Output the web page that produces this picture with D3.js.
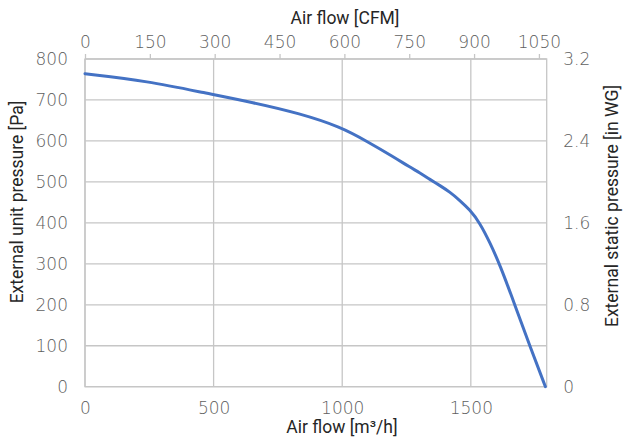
<!DOCTYPE html>
<html>
<head>
<meta charset="utf-8">
<script src="https://cdn.jsdelivr.net/npm/d3@7"></script>
<style>
  html, body { margin: 0; padding: 0; background: #fff; }
  svg { display: block; }
  .tick text { font-family: "DejaVu Sans", sans-serif; font-stretch: condensed; font-weight: 300; font-size: 17px; fill: #5f5f5f; }
  .title { font-family: "Roboto", "Liberation Sans", sans-serif; font-size: 17.5px; fill: #262626; }
</style>
</head>
<body>
<script>
// ---- data ----
const flowM3h    = [0, 244, 467, 653, 836, 995, 1096, 1197, 1263, 1302, 1341, 1380, 1419, 1457, 1496, 1535, 1574, 1613, 1671, 1729, 1790];
const pressurePa = [764, 746, 717, 694, 667, 634, 599, 562, 536, 522, 506, 491, 475, 455, 432, 400, 352, 298, 200, 100, 0];
const m3hTicks   = [0, 500, 1000, 1500];
const cfmTicks   = [0, 150, 300, 450, 600, 750, 900, 1050];
const paTicks    = [0, 100, 200, 300, 400, 500, 600, 700, 800];
const inwgTicks  = [0, 0.8, 1.6, 2.4, 3.2];
const inwgLabels = ["0", "0.8", "1.6", "2.4", "3.2"];

const W = 624, H = 441;
const L = 85, R = 546.7, T = 59, B = 386.7;

const svg = d3.select("body").append("svg").attr("width", W).attr("height", H);

const x    = d3.scaleLinear().domain([0, 1795]).range([L, R]);
const xTop = d3.scaleLinear().domain([0, 1068]).range([L, R]);
const y    = d3.scaleLinear().domain([0, 800]).range([B, T]);
const yR   = d3.scaleLinear().domain([0, 3.2]).range([B, T]);

const gridColor = "#c6c6c6";
const fmt = d3.format("d");

// horizontal grid
svg.append("g").selectAll("line").data(paTicks).join("line")
  .attr("x1", L).attr("x2", R)
  .attr("y1", d => y(d)).attr("y2", d => y(d))
  .attr("stroke", gridColor).attr("stroke-width", 1.3);
// vertical grid
svg.append("g").selectAll("line").data(m3hTicks).join("line")
  .attr("x1", d => x(d)).attr("x2", d => x(d))
  .attr("y1", T).attr("y2", B)
  .attr("stroke", gridColor).attr("stroke-width", 1.3);
// border
svg.append("rect").attr("x", L).attr("y", T).attr("width", R - L).attr("height", B - T)
  .attr("fill", "none").attr("stroke", gridColor).attr("stroke-width", 1.3);

// axes
const gl = svg.append("g").attr("transform", `translate(${L},0)`)
  .call(d3.axisLeft(y).tickValues(paTicks).tickFormat(fmt).tickSize(0).tickPadding(17));
const gr = svg.append("g").attr("transform", `translate(${R},0)`)
  .call(d3.axisRight(yR).tickValues(inwgTicks).tickFormat((d, i) => inwgLabels[i]).tickSize(0).tickPadding(16.5));
const gb = svg.append("g").attr("transform", `translate(0,${B})`)
  .call(d3.axisBottom(x).tickValues(m3hTicks).tickFormat(fmt).tickSize(0).tickPadding(15));
const gt = svg.append("g").attr("transform", `translate(0,${T})`)
  .call(d3.axisTop(xTop).tickValues(cfmTicks).tickFormat(fmt).tickSize(5).tickPadding(6));

[gl, gr, gb, gt].forEach(g => {
  g.select(".domain").remove();
  g.selectAll(".tick line").attr("stroke", gridColor).attr("stroke-width", 1.3);
});

// curve
const line = d3.line()
  .x((d, i) => x(flowM3h[i]))
  .y((d, i) => y(pressurePa[i]))
  .curve(d3.curveBasis);
svg.append("path").datum(pressurePa)
  .attr("d", line)
  .attr("fill", "none").attr("stroke", "#4472c4").attr("stroke-width", 3).attr("stroke-linecap", "round");

// titles
svg.append("text").attr("class", "title").attr("x", 345).attr("y", 24).attr("text-anchor", "middle").text("Air flow [CFM]");
svg.append("text").attr("class", "title").attr("x", 342).attr("y", 433).attr("text-anchor", "middle").text("Air flow [m³/h]");
svg.append("text").attr("class", "title").attr("text-anchor", "middle")
  .attr("transform", "translate(23,202) rotate(-90)").text("External unit pressure [Pa]");
svg.append("text").attr("class", "title").attr("text-anchor", "middle")
  .attr("transform", "translate(618,206) rotate(-90)").text("External static pressure [in WG]");
</script>
</body>
</html>
